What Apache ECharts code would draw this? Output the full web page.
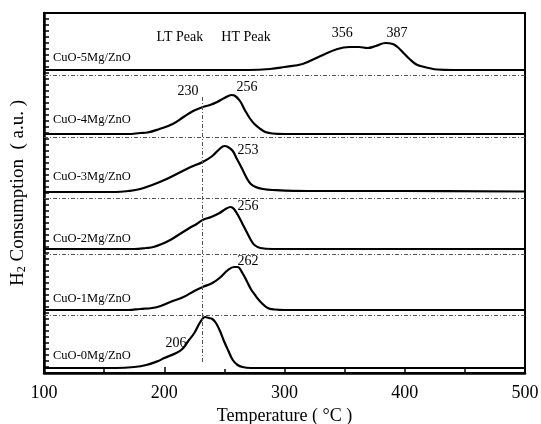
<!DOCTYPE html>
<html>
<head>
<meta charset="utf-8">
<script src="https://cdn.jsdelivr.net/npm/echarts@6/dist/echarts.min.js"></script>
<style>
  html, body { margin: 0; padding: 0; background: #fff; }
  #chart { width: 541px; height: 424px; }
</style>
</head>
<body>
<div id="chart"></div>
<script>
// samples, bottom to top
const samples = ['CuO-0Mg/ZnO', 'CuO-1Mg/ZnO', 'CuO-2Mg/ZnO', 'CuO-3Mg/ZnO', 'CuO-4Mg/ZnO', 'CuO-5Mg/ZnO'];
// baseline of each stacked profile (a.u.)
const baselines = [5, 63, 124, 181, 239, 303];
// dotted separators between profiles (a.u.)
const separators = [58, 119, 175, 236, 298];

// [temperature, signal above baseline]
const cu0 = [[100,0],[160,0],[175,1],[185,3],[195,7],[200,10],[210,15],[215,19],[220,27],[225,35],[230,46],[234,51],[237,50],[240,49],[243,45],[246,38],[250,26],[253,18],[257,8],[261,3],[265,1],[272,0],[290,0],[500,0]];
const cu1 = [[100,0],[170,0],[180,1],[190,2],[197,4],[205,8],[216,13],[225,19],[232,23],[240,27],[246,32],[253,40],[258,43],[261,43],[265,37],[269,28],[272,21],[275.5,15],[278,11],[281,7],[286,2],[292,0.5],[300,0],[320,0],[500,0]];
const cu2 = [[100,0],[175,0],[185,1],[191,2],[198,5],[205,9],[213,15],[221,21],[227,25],[232,29],[239,32],[246,36],[251,40],[255,42],[258,40],[263,30],[266,23],[269,16],[272,9],[275,4],[280,1],[290,0],[310,0],[500,0]];
const cu3 = [[100,0],[160,0],[170,1],[180,3],[190,7],[202,13],[212,19],[222,25],[232,30],[240,36],[246,43],[250,46],[253,45],[257,41],[260,34],[264,25],[269,13],[272,8],[276,5],[282,3],[290,2],[320,1],[400,1],[500,0.5]];
const cu4 = [[100,0],[170,0],[180,1],[186,1.5],[196,5],[207,10],[216,17],[224,23],[232,27],[238,29],[244,32],[250,36],[256,39],[259,38],[263,33],[267,24],[271,16],[275,10],[280,5],[284,2],[290,0.5],[300,0],[320,0],[500,0]];
const cu5 = [[100,0],[250,0],[270,0],[288,1],[300,3],[315,6],[330,14],[344,21],[354,23],[362,23],[369,22],[376,24],[384,27],[390,26],[394,23],[399,17],[404,11],[409,6],[413,4],[420,2],[427,0.5],[440,0],[460,0],[500,0]];
const curves = [cu0, cu1, cu2, cu3, cu4, cu5];

// LT / HT reference line temperature
const ltLine = 232;

// peak annotations: [temperature, a.u., text]
const peakLabels = [
  [213, 336, 'LT Peak'], [268, 336, 'HT Peak'],
  [348, 340, '356'], [393.6, 340, '387'],
  [219.8, 282, '230'], [268.8, 286, '256'],
  [269.6, 223, '253'], [269.6, 167, '256'],
  [269.6, 112, '262'], [209.8, 30, '206']
];
// sample name positions: [temperature, a.u.]
const nameSpots = [[107.5, 17], [107.5, 74], [107.5, 134], [107.5, 196], [107.5, 253], [107.5, 315]];

const serif = 'Liberation Serif';

const chart = echarts.init(document.getElementById('chart'));

const series = curves.map((c, i) => ({
  type: 'line',
  data: c.map(p => [p[0], baselines[i] + p[1]]),
  showSymbol: false,
  smooth: 0.4,
  lineStyle: { color: '#000', width: 2.2 },
  silent: true,
  z: 3
}));

// separators, vertical line and text
series.push({
  type: 'line',
  data: [],
  silent: true,
  markLine: {
    symbol: 'none',
    silent: true,
    label: { show: false },
    lineStyle: { color: '#555', width: 1, type: [4, 2, 1, 2] },
    data: separators.map(v => ({ yAxis: v })).concat([[
      { coord: [ltLine, 11] }, { coord: [ltLine, 276] }
    ]])
  },
  markPoint: {
    symbol: 'circle',
    symbolSize: 0,
    silent: true,
    data: peakLabels.map(p => ({
      coord: [p[0], p[1]],
      label: { show: true, formatter: p[2], position: 'inside', color: '#000', fontFamily: serif, fontSize: 14 }
    })).concat(nameSpots.map((p, i) => ({
      coord: p,
      label: { show: true, formatter: samples[i], position: 'right', distance: 0, color: '#000', fontFamily: serif, fontSize: 12.5 }
    })))
  }
});

chart.setOption({
  backgroundColor: '#fff',
  animation: false,
  grid: {
    left: 44, right: 16, top: 13, bottom: 51,
    outerBoundsMode: 'none', containLabel: false,
    show: true, borderColor: '#000', borderWidth: 2, backgroundColor: 'transparent'
  },
  xAxis: {
    type: 'value', min: 100, max: 500, interval: 100,
    name: 'Temperature ( °C )',
    nameLocation: 'middle', nameGap: 28,
    nameTextStyle: { fontFamily: serif, fontSize: 18, color: '#000' },
    axisLine: { lineStyle: { color: '#000', width: 2.5 } },
    axisTick: { inside: true, length: 6, lineStyle: { color: '#000', width: 1.5 } },
    minorTick: { show: true, splitNumber: 2, length: 4, lineStyle: { color: '#000', width: 1.5 } },
    axisLabel: { fontFamily: serif, fontSize: 18, color: '#000', margin: 11 },
    splitLine: { show: false }
  },
  yAxis: {
    type: 'value', min: 0, max: 360, interval: 30,
    name: 'H{sub|2} Consumption  ( a.u. )',
    nameLocation: 'middle', nameGap: 16,
    nameTextStyle: {
      fontFamily: serif, fontSize: 19, color: '#000',
      rich: { sub: { fontFamily: serif, fontSize: 12, color: '#000', verticalAlign: 'bottom', padding: [8, 0, 0, 0] } }
    },
    axisLine: { lineStyle: { color: '#000', width: 2.5 } },
    axisTick: { inside: true, length: 5, lineStyle: { color: '#000', width: 1.5 } },
    minorTick: { show: true, splitNumber: 5, length: 5, lineStyle: { color: '#000', width: 1.5 } },
    axisLabel: { show: false },
    splitLine: { show: false }
  },
  series: series
});
</script>
</body>
</html>
